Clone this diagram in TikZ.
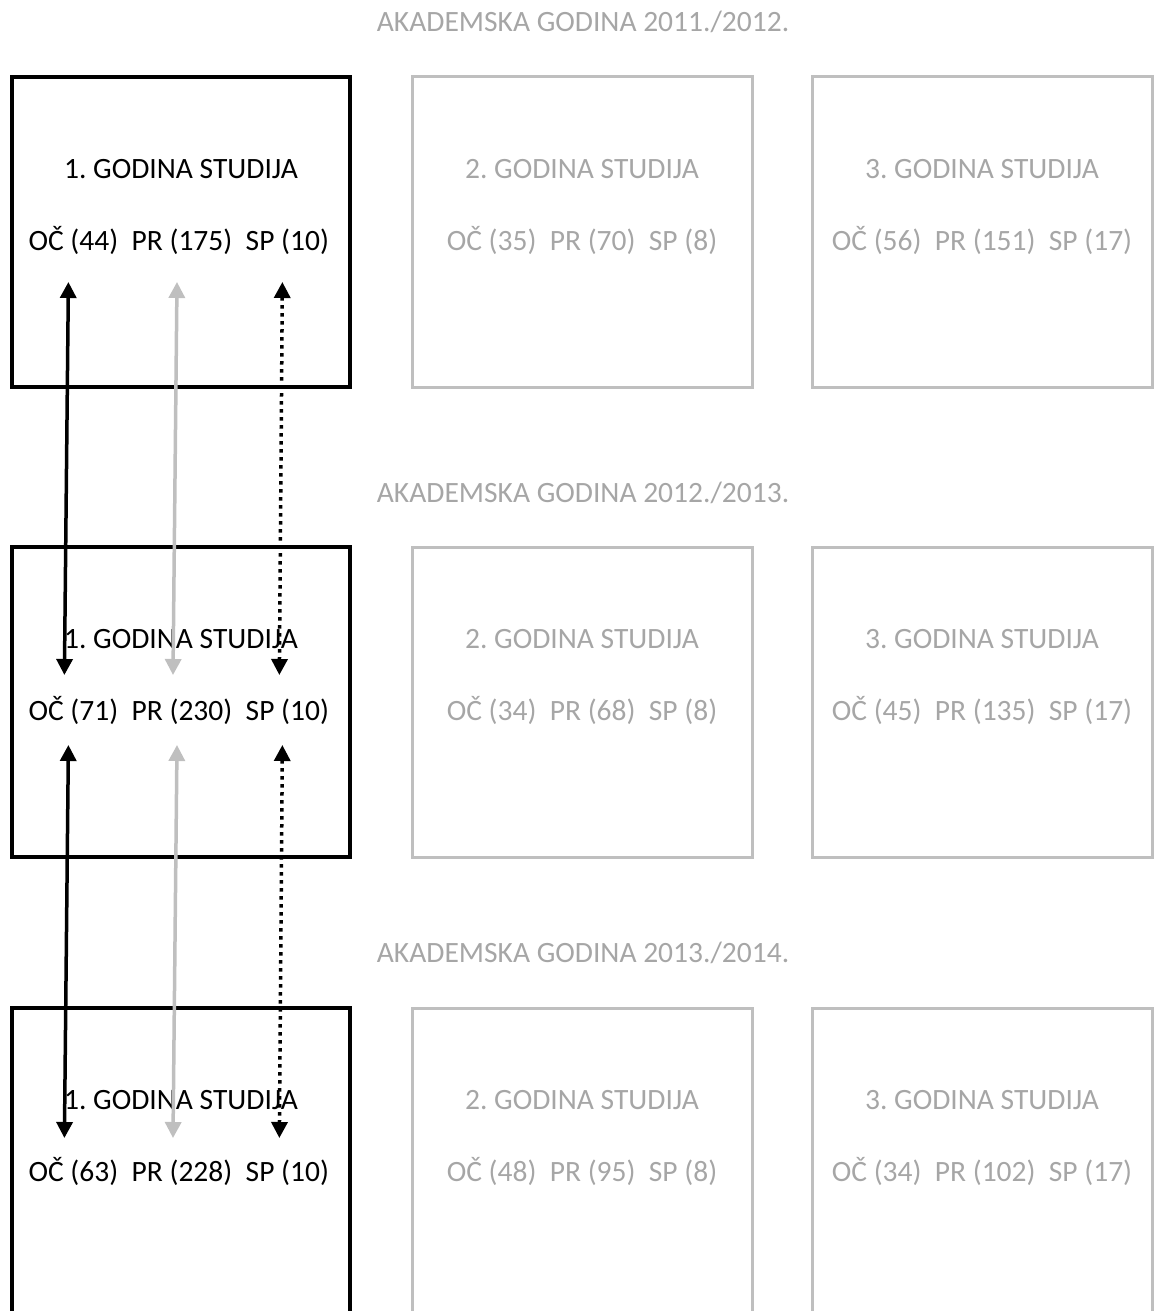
\documentclass[tikz,border=0pt]{standalone}
\usepackage{fontspec}
\setmainfont{Carlito}
\usepackage{xcolor}
\usepackage{tikz}
\usetikzlibrary{arrows.meta, positioning}

\definecolor{boxgray}{HTML}{BFBFBF}
\definecolor{textgray}{HTML}{A6A6A6}
\frenchspacing

\begin{document}
\begin{tikzpicture}[x=1pt, y=-1pt, every node/.style={font=\fontsize{29.5}{35}\selectfont, inner sep=0pt}]

\tikzstyle{current} = [rectangle, draw=black, line width=3.5pt, minimum width=338pt, minimum height=310pt]
\tikzstyle{other} = [rectangle, draw=boxgray, line width=3pt, minimum width=340pt, minimum height=310pt]
\tikzstyle{yeartitle} = [anchor=base, text=textgray]
\tikzstyle{info} = [anchor=base]
\tikzstyle{infogray} = [anchor=base, text=textgray]
\tikzstyle{arrow} = [line width=3.5pt, {Triangle[width=16pt,length=16pt]}-{Triangle[width=16pt,length=16pt]}]
\tikzstyle{ocarrow} = [arrow, draw=black]
\tikzstyle{prarrow} = [arrow, draw=boxgray]
\tikzstyle{sparrow} = [arrow, draw=black, dash pattern=on 3.5pt off 4.5pt]

\useasboundingbox (0,0) rectangle (1155,1311);
\clip (0,0) rectangle (1155,1311);

% Academic year 2011./2012.
\node (year1) [yeartitle] at (583,32) {AKADEMSKA GODINA 2011./2012.};
\node (box11) [current] at (181,232) {};
\node (box12) [other] at (582,232) {};
\node (box13) [other] at (982,232) {};
\node (title11) [info] at (181,178) {1. GODINA STUDIJA};
\node (pr1) [info] at (182,250) {PR (175)};
\node (oc1) [base left=13pt of pr1] {OČ (44)};
\node (sp1) [base right=13pt of pr1] {SP (10)};
\node (title12) [infogray] at (582,178) {2. GODINA STUDIJA};
\node (count12) [infogray] at (582,250) {OČ (35)\ \ PR (70)\ \ SP (8)};
\node (title13) [infogray] at (982,178) {3. GODINA STUDIJA};
\node (count13) [infogray] at (982,250) {OČ (56)\ \ PR (151)\ \ SP (17)};

% Academic year 2012./2013.
\node (year2) [yeartitle] at (583,502) {AKADEMSKA GODINA 2012./2013.};
\node (box21) [current] at (181,702) {};
\node (box22) [other] at (582,702) {};
\node (box23) [other] at (982,702) {};
\node (title21) [info] at (181,648) {1. GODINA STUDIJA};
\node (pr2) [info] at (182,720) {PR (230)};
\node (oc2) [base left=13pt of pr2] {OČ (71)};
\node (sp2) [base right=13pt of pr2] {SP (10)};
\node (title22) [infogray] at (582,648) {2. GODINA STUDIJA};
\node (count22) [infogray] at (582,720) {OČ (34)\ \ PR (68)\ \ SP (8)};
\node (title23) [infogray] at (982,648) {3. GODINA STUDIJA};
\node (count23) [infogray] at (982,720) {OČ (45)\ \ PR (135)\ \ SP (17)};

% Academic year 2013./2014.
\node (year3) [yeartitle] at (583,962) {AKADEMSKA GODINA 2013./2014.};
\node (box31) [current] at (181,1163) {};
\node (box32) [other] at (582,1163) {};
\node (box33) [other] at (982,1163) {};
\node (title31) [info] at (181,1109) {1. GODINA STUDIJA};
\node (pr3) [info] at (182,1181) {PR (228)};
\node (oc3) [base left=13pt of pr3] {OČ (63)};
\node (sp3) [base right=13pt of pr3] {SP (10)};
\node (title32) [infogray] at (582,1109) {2. GODINA STUDIJA};
\node (count32) [infogray] at (582,1181) {OČ (48)\ \ PR (95)\ \ SP (8)};
\node (title33) [infogray] at (982,1109) {3. GODINA STUDIJA};
\node (count33) [infogray] at (982,1181) {OČ (34)\ \ PR (102)\ \ SP (17)};

% Arrows
\draw [ocarrow] ([xshift=-5pt, yshift=-32pt]oc1.base) -- ([xshift=-9pt, yshift=45pt]oc2.base);
\draw [prarrow] ([xshift=-5pt, yshift=-32pt]pr1.base) -- ([xshift=-9pt, yshift=45pt]pr2.base);
\draw [sparrow] ([xshift=-5pt, yshift=-32pt]sp1.base) -- ([xshift=-8pt, yshift=45pt]sp2.base);
\draw [ocarrow] ([xshift=-5pt, yshift=-25pt]oc2.base) -- ([xshift=-9pt, yshift=43pt]oc3.base);
\draw [prarrow] ([xshift=-5pt, yshift=-25pt]pr2.base) -- ([xshift=-9pt, yshift=43pt]pr3.base);
\draw [sparrow] ([xshift=-5pt, yshift=-25pt]sp2.base) -- ([xshift=-8pt, yshift=43pt]sp3.base);

\end{tikzpicture}
\end{document}
